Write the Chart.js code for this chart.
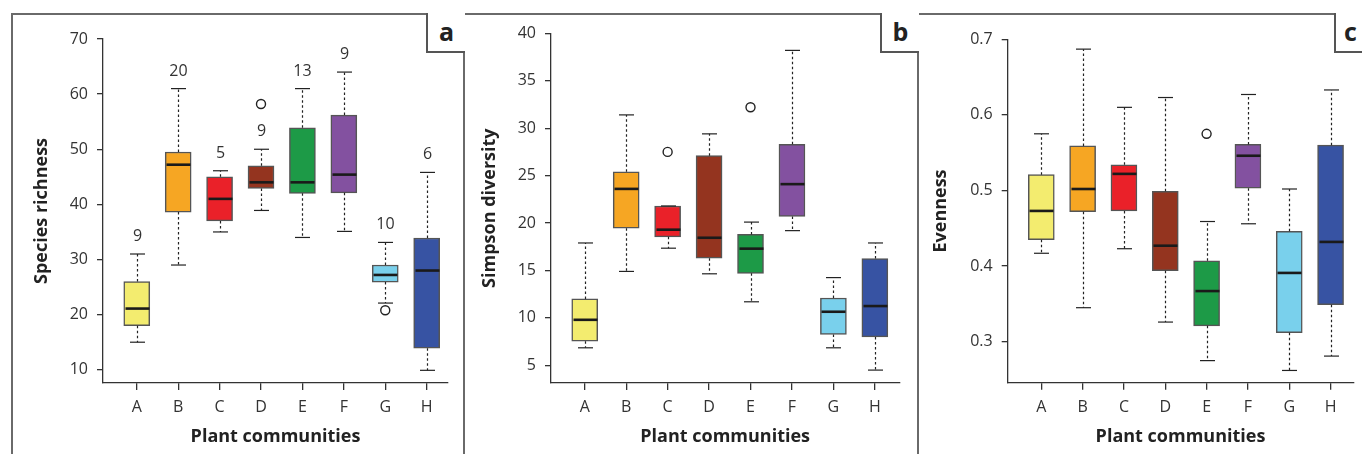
<!DOCTYPE html>
<html>
<head>
<meta charset="utf-8">
<script src="https://cdn.jsdelivr.net/npm/chart.js@4/dist/chart.umd.min.js"></script>
<style>
  body { margin: 0; background: #fff; }
  #fig { position: relative; width: 1362px; height: 454px; overflow: hidden; font-family: "Open Sans", sans-serif; }
  canvas { position: absolute; top: 14px; }
  .ln { position: absolute; background: #6a6a6a; }
  .tag { position: absolute; top: 13px; height: 38px; border-left: 2px solid #555; border-bottom: 2px solid #555;
         font: bold 25px "Open Sans", sans-serif; color: #222; text-align: center; line-height: 36px; background: #fff; }
</style>
</head>
<body>
<div id="fig">
  <div class="ln" style="left:11px;top:13px;width:1351px;height:2px"></div>
  <div class="ln" style="left:11px;top:13px;width:2px;height:441px"></div>
  <div class="ln" style="left:463px;top:13px;width:2px;height:441px"></div>
  <div class="ln" style="left:917px;top:13px;width:2px;height:441px"></div>
  <canvas id="chartA" width="451" height="440" style="left:13px"></canvas>
  <canvas id="chartB" width="452" height="440" style="left:465px"></canvas>
  <canvas id="chartC" width="443" height="440" style="left:919px"></canvas>
  <div class="tag" style="left:426px;width:37px">a</div>
  <div class="tag" style="left:1334px;width:40px;text-align:left;padding-left:8px">c</div>
  <div class="tag" style="left:880px;width:37px">b</div>
</div>
<script>
// plant communities
const communities = ["A", "B", "C", "D", "E", "F", "G", "H"];
const boxColors = ["#F3EC6F", "#F6A623", "#EA2129", "#94341F", "#1D9A47", "#8351A0", "#79D0EC", "#3753A3"];

// species richness
const richLow  = [15, 29, 35, 38.9, 34, 35.1, 22.1, 9.9];
const richQ1   = [18, 38.6, 37, 42.9, 42, 42.1, 25.9, 13.9];
const richMed  = [21.1, 47.2, 41, 44, 44, 45.4, 27.2, 28];
const richQ3   = [26, 49.5, 45, 47, 53.9, 56.2, 29, 33.9];
const richHigh = [31, 61, 46.1, 50, 61, 64, 33.1, 45.8];
const richOutliers = [[3, 58.2], [6, 20.8]];
const richN = [9, 20, 5, 9, 13, 9, 10, 6];
const richTicks = [10, 20, 30, 40, 50, 60, 70];

// simpson diversity
const simpLow  = [6.85, 14.9, 17.35, 14.65, 11.7, 19.2, 6.85, 4.5];
const simpQ1   = [7.55, 19.45, 18.55, 16.3, 14.7, 20.7, 8.25, 8];
const simpMed  = [9.8, 23.6, 19.3, 18.45, 17.3, 24.1, 10.65, 11.25];
const simpQ3   = [12, 25.4, 21.8, 27.1, 18.8, 28.3, 12.1, 16.25];
const simpHigh = [17.9, 31.4, 21.8, 29.4, 20.1, 38.2, 14.25, 17.9];
const simpOutliers = [[2, 27.5], [4, 32.2]];
const simpTicks = [5, 10, 15, 20, 25, 30, 35, 40];

// evenness
const evenLow  = [0.417, 0.345, 0.423, 0.326, 0.275, 0.456, 0.262, 0.281];
const evenQ1   = [0.435, 0.472, 0.473, 0.394, 0.321, 0.503, 0.312, 0.349];
const evenMed  = [0.473, 0.502, 0.522, 0.427, 0.367, 0.546, 0.391, 0.432];
const evenQ3   = [0.521, 0.559, 0.534, 0.499, 0.407, 0.561, 0.446, 0.560];
const evenHigh = [0.575, 0.687, 0.610, 0.623, 0.459, 0.627, 0.502, 0.633];
const evenOutliers = [[4, 0.575]];
const evenTicks = [0.3, 0.4, 0.5, 0.6, 0.7];

const textColor = "#333";
const axisColor = "#333";

// whiskers, medians and group sizes, placed with the chart's scales
const boxExtras = {
  id: "boxExtras",
  afterDatasetsDraw(chart, args, opts) {
    const ctx = chart.ctx;
    const x = chart.scales.x, y = chart.scales.y;
    const line = (x1, y1, x2, y2) => { ctx.beginPath(); ctx.moveTo(x1, y1); ctx.lineTo(x2, y2); ctx.stroke(); };
    ctx.save();
    opts.med.forEach((m, i) => {
      const cx = Math.round(x.getPixelForValue(i + 1)) + 0.5;
      const yLo = y.getPixelForValue(opts.low[i]);
      const yQ1 = y.getPixelForValue(opts.q1[i]);
      const yQ3 = y.getPixelForValue(opts.q3[i]);
      const yHi = y.getPixelForValue(opts.high[i]);
      ctx.strokeStyle = "#222";
      ctx.lineWidth = 1.2;
      ctx.setLineDash([2.5, 2.5]);
      line(cx, yQ3, cx, yHi);
      line(cx, yQ1, cx, yLo);
      ctx.setLineDash([]);
      line(cx - 7.5, yHi, cx + 7.5, yHi);
      line(cx - 7.5, yLo, cx + 7.5, yLo);
      ctx.lineWidth = 2.6;
      ctx.strokeStyle = "#1a1a1a";
      const ym = y.getPixelForValue(m);
      line(cx - 12, ym, cx + 12, ym);
      if (opts.n) {
        ctx.fillStyle = textColor;
        ctx.font = "16px 'Open Sans'";
        ctx.textAlign = "center";
        ctx.textBaseline = "alphabetic";
        ctx.fillText(String(opts.n[i]), cx, yHi - 13);
      }
    });
    ctx.restore();
  }
};

function makeBoxChart(id, p) {
  let boxData = communities.map((c, i) => ({ x: i + 1, y: [p.q1[i], p.q3[i]] }));
  let outData = p.outliers.map(o => ({ x: o[0] + 1, y: o[1] }));

  return new Chart(document.getElementById(id), {
    data: {
      datasets: [
        {
          type: "bar",
          data: boxData,
          backgroundColor: boxColors,
          borderColor: "#555",
          borderWidth: 1.5,
          borderSkipped: false,
          barThickness: 26,
        },
        {
          type: "scatter",
          data: outData,
          pointRadius: 4.5,
          pointBackgroundColor: "#fff",
          pointBorderColor: "#222",
          pointBorderWidth: 1.4,
          clip: false,
        },
      ],
    },
    options: {
      responsive: false,
      animation: false,
      devicePixelRatio: 1,
      layout: { padding: p.pad },
      plugins: {
        legend: { display: false },
        tooltip: { enabled: false },
        boxExtras: { low: p.low, q1: p.q1, med: p.med, q3: p.q3, high: p.high, n: p.n },
      },
      scales: {
        x: {
          type: "linear",
          min: p.xMin,
          max: p.xMax,
          offset: false,
          afterBuildTicks: s => { s.ticks = communities.map((c, i) => ({ value: i + 1 })); },
          afterFit: s => { s.height = p.xHeight; },
          grid: { display: true, offset: false, drawOnChartArea: false, drawTicks: true, tickLength: 7, color: axisColor, lineWidth: 1.3 },
          border: { display: true, color: axisColor, width: 1.3 },
          ticks: {
            autoSkip: false,
            maxRotation: 0,
            padding: 8,
            color: textColor,
            font: { family: "Open Sans", size: 16 },
            callback: v => communities[v - 1],
          },
          title: {
            display: true,
            text: "Plant communities",
            color: "#222",
            font: { family: "Open Sans", size: 18, weight: "bold" },
            padding: { top: 0, bottom: p.xTitlePad },
          },
        },
        y: {
          type: "linear",
          min: p.yMin,
          max: p.yMax,
          afterBuildTicks: s => { s.ticks = p.ticks.map(v => ({ value: v })); },
          afterFit: s => { s.width = p.yWidth; },
          grid: { display: true, drawOnChartArea: false, drawTicks: true, tickLength: 6, color: axisColor, lineWidth: 1.3 },
          border: { display: true, color: axisColor, width: 1.3 },
          ticks: {
            padding: 9,
            color: textColor,
            font: { family: "Open Sans", size: 16 },
            callback: p.fmt,
          },
          title: {
            display: true,
            text: p.title,
            color: "#222",
            font: { family: "Open Sans", size: 18, weight: "bold" },
            padding: { top: p.yTitlePad, bottom: 0 },
          },
        },
      },
    },
    plugins: [boxExtras],
  });
}

makeBoxChart("chartA", {
  low: richLow, q1: richQ1, med: richMed, q3: richQ3, high: richHigh, outliers: richOutliers, n: richN,
  ticks: richTicks, fmt: v => String(v), title: "Species richness",
  yMin: 7.6, yMax: 70, xMin: 0.185, xMax: 8.515,
  pad: { left: 10, top: 25, right: 16, bottom: 0 }, yWidth: 80, xHeight: 71, yTitlePad: 8.5, xTitlePad: 6,
});

makeBoxChart("chartB", {
  low: simpLow, q1: simpQ1, med: simpMed, q3: simpQ3, high: simpHigh, outliers: simpOutliers, n: null,
  ticks: simpTicks, fmt: v => String(v), title: "Simpson diversity",
  yMin: 3.14, yMax: 40, xMin: 0.186, xMax: 8.59,
  pad: { left: 10, top: 19.3, right: 17.7, bottom: 0 }, yWidth: 76, xHeight: 71, yTitlePad: 3.7, xTitlePad: 6,
});

makeBoxChart("chartC", {
  low: evenLow, q1: evenQ1, med: evenMed, q3: evenQ3, high: evenHigh, outliers: evenOutliers, n: null,
  ticks: evenTicks, fmt: v => v.toFixed(1), title: "Evenness",
  yMin: 0.2458, yMax: 0.7, xMin: 0.187, xMax: 8.55,
  pad: { left: 5, top: 25.3, right: 8.7, bottom: 0 }, yWidth: 83.7, xHeight: 71.3, yTitlePad: 6, xTitlePad: 6,
});
</script>
</body>
</html>
